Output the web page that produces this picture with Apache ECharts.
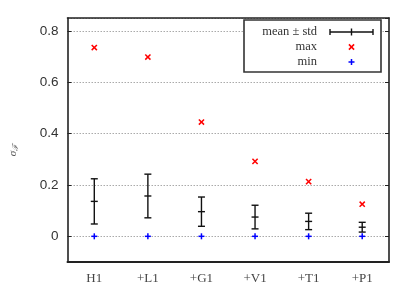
<!DOCTYPE html>
<html><head><meta charset="utf-8">
<script src="https://cdn.jsdelivr.net/npm/echarts@6/dist/echarts.min.js"></script>
<style>html,body{margin:0;padding:0;background:#fff}#c{width:415px;height:292px}</style>
</head><body><div id="c"></div>
<script>
const categories = ['H1', '+L1', '+G1', '+V1', '+T1', '+P1'];
const meanVals = [0.136, 0.157, 0.096, 0.075, 0.058, 0.0355];
const stdVals  = [0.088, 0.085, 0.057, 0.046, 0.032, 0.019];
const maxVals  = [0.735, 0.698, 0.445, 0.292, 0.213, 0.125];
const minVals  = [0, 0, 0, 0, 0, 0];
const yTickLabels = ['0', '0.2', '0.4', '0.6', '0.8'];

const serif = '"Liberation Serif", "DejaVu Serif", serif';
const sans = '"Liberation Sans", "DejaVu Sans", sans-serif';
const axisCol = '#222';

const chart = echarts.init(document.getElementById('c'), null, {renderer: 'canvas'});

function errBar(params, api) {
  const i = api.value(0);
  const m = api.value(1), s = api.value(2);
  const lo = api.coord([i, m - s]), hi = api.coord([i, m + s]), mid = api.coord([i, m]);
  const w = 3.5;
  const st = {stroke: '#111', lineWidth: 1.4};
  return {type: 'group', children: [
    {type: 'line', shape: {x1: lo[0], y1: lo[1], x2: hi[0], y2: hi[1]}, style: st},
    {type: 'line', shape: {x1: lo[0] - w, y1: lo[1], x2: lo[0] + w, y2: lo[1]}, style: st},
    {type: 'line', shape: {x1: hi[0] - w, y1: hi[1], x2: hi[0] + w, y2: hi[1]}, style: st},
    {type: 'line', shape: {x1: mid[0] - w, y1: mid[1], x2: mid[0] + w, y2: mid[1]}, style: st}
  ]};
}
function crossX(params, api) {
  const p = api.coord([api.value(0), api.value(1)]);
  const h = 2.6;
  const st = {stroke: '#ff0000', lineWidth: 1.5};
  return {type: 'group', children: [
    {type: 'line', shape: {x1: p[0] - h, y1: p[1] - h, x2: p[0] + h, y2: p[1] + h}, style: st},
    {type: 'line', shape: {x1: p[0] - h, y1: p[1] + h, x2: p[0] + h, y2: p[1] - h}, style: st}
  ]};
}
function plus(params, api) {
  const p = api.coord([api.value(0), api.value(1)]);
  const h = 3;
  const st = {stroke: '#0000ff', lineWidth: 1.5};
  return {type: 'group', children: [
    {type: 'line', shape: {x1: p[0] - h, y1: p[1], x2: p[0] + h, y2: p[1]}, style: st},
    {type: 'line', shape: {x1: p[0], y1: p[1] - h, x2: p[0], y2: p[1] + h}, style: st}
  ]};
}

const yCommon = {
  type: 'value', min: -0.1, max: 0.85, splitNumber: 5,
  axisLine: {show: true, onZero: false, lineStyle: {color: axisCol, width: 1.6}},
  axisTick: {show: true, inside: true, length: 4, lineStyle: {color: axisCol, width: 1}},
};
const fmtY = v => {
  const idx = yTickLabels.indexOf(String(Math.round(v * 10) / 10));
  return (Math.abs(v * 5 - Math.round(v * 5)) < 1e-6 && v >= 0 && idx >= 0) ? yTickLabels[idx] : '';
};

const L = {x: 244, y: 20, w: 137, h: 52};
const legTxt = (t, y) => ({type: 'text', x: 317, y: y, style: {text: t, font: '12.5px ' + serif, fill: '#333', textAlign: 'right', textVerticalAlign: 'middle'}});
const ln = (x1, y1, x2, y2, c, w) => ({type: 'line', shape: {x1, y1, x2, y2}, style: {stroke: c, lineWidth: w}});

chart.setOption({
  animation: false,
  grid: {left: 66, top: 18, right: 26, bottom: 30},
  xAxis: [
    {type: 'category', data: categories, boundaryGap: true,
     axisLine: {onZero: false, lineStyle: {color: axisCol, width: 2}},
     axisTick: {inside: true, alignWithLabel: true, length: 4, lineStyle: {color: axisCol, width: 1}},
     axisLabel: {fontFamily: serif, fontSize: 13, color: '#444', margin: 10}},
    {type: 'category', data: categories, boundaryGap: true, position: 'top',
     axisLine: {onZero: false, lineStyle: {color: axisCol, width: 1.6}},
     axisTick: {inside: true, alignWithLabel: true, length: 4, lineStyle: {color: axisCol, width: 1}},
     axisLabel: {show: false}}
  ],
  yAxis: [
    Object.assign({}, yCommon, {
      position: 'left',
      axisLabel: {formatter: fmtY, fontFamily: sans, fontSize: 13.5, color: '#333', margin: 9, showMinLabel: false, showMaxLabel: false},
      splitLine: {show: true, lineStyle: {type: [1.5, 1.5], color: '#aaa', width: 1}},
      name: '{s|σ}{f|ℱ}', nameLocation: 'middle', nameRotate: 90, nameGap: 48,
      nameTextStyle: {padding: [0, 20, 0, 0],
                      rich: {s: {fontFamily: serif, fontStyle: 'italic', fontSize: 11, color: '#555'},
                             f: {fontFamily: serif, fontStyle: 'italic', fontSize: 8, color: '#555', verticalAlign: 'bottom', padding: [4, 0, 0, 0]}}}
    }),
    Object.assign({}, yCommon, {position: 'right', axisLabel: {show: false}, splitLine: {show: false}})
  ],
  series: [
    {type: 'custom', name: 'mean ± std', renderItem: errBar, xAxisIndex: 0, yAxisIndex: 0,
     data: categories.map((c, i) => [i, meanVals[i], stdVals[i]]), z: 3},
    {type: 'custom', name: 'max', renderItem: crossX,
     data: categories.map((c, i) => [i, maxVals[i]]), z: 3},
    {type: 'custom', name: 'min', renderItem: plus,
     data: categories.map((c, i) => [i, minVals[i]]), z: 3}
  ],
  graphic: [
    {type: 'rect', shape: {x: L.x, y: L.y, width: L.w, height: L.h}, style: {fill: '#fff', stroke: '#333', lineWidth: 1.6}, z: 10},
    Object.assign(legTxt('mean ± std', 32), {z: 11}),
    Object.assign(legTxt('max', 47), {z: 11}),
    Object.assign(legTxt('min', 62), {z: 11}),
    Object.assign(ln(330, 32, 373, 32, '#111', 1.4), {z: 11}),
    Object.assign(ln(330, 29, 330, 35, '#111', 1.4), {z: 11}),
    Object.assign(ln(373, 29, 373, 35, '#111', 1.4), {z: 11}),
    Object.assign(ln(351.5, 28.5, 351.5, 35.5, '#111', 1.4), {z: 11}),
    Object.assign(ln(348.9, 44.4, 354.1, 49.6, '#f00', 1.5), {z: 11}),
    Object.assign(ln(348.9, 49.6, 354.1, 44.4, '#f00', 1.5), {z: 11}),
    Object.assign(ln(348.5, 62, 354.5, 62, '#00f', 1.5), {z: 11}),
    Object.assign(ln(351.5, 59, 351.5, 65, '#00f', 1.5), {z: 11})
  ]
});
</script></body></html>
